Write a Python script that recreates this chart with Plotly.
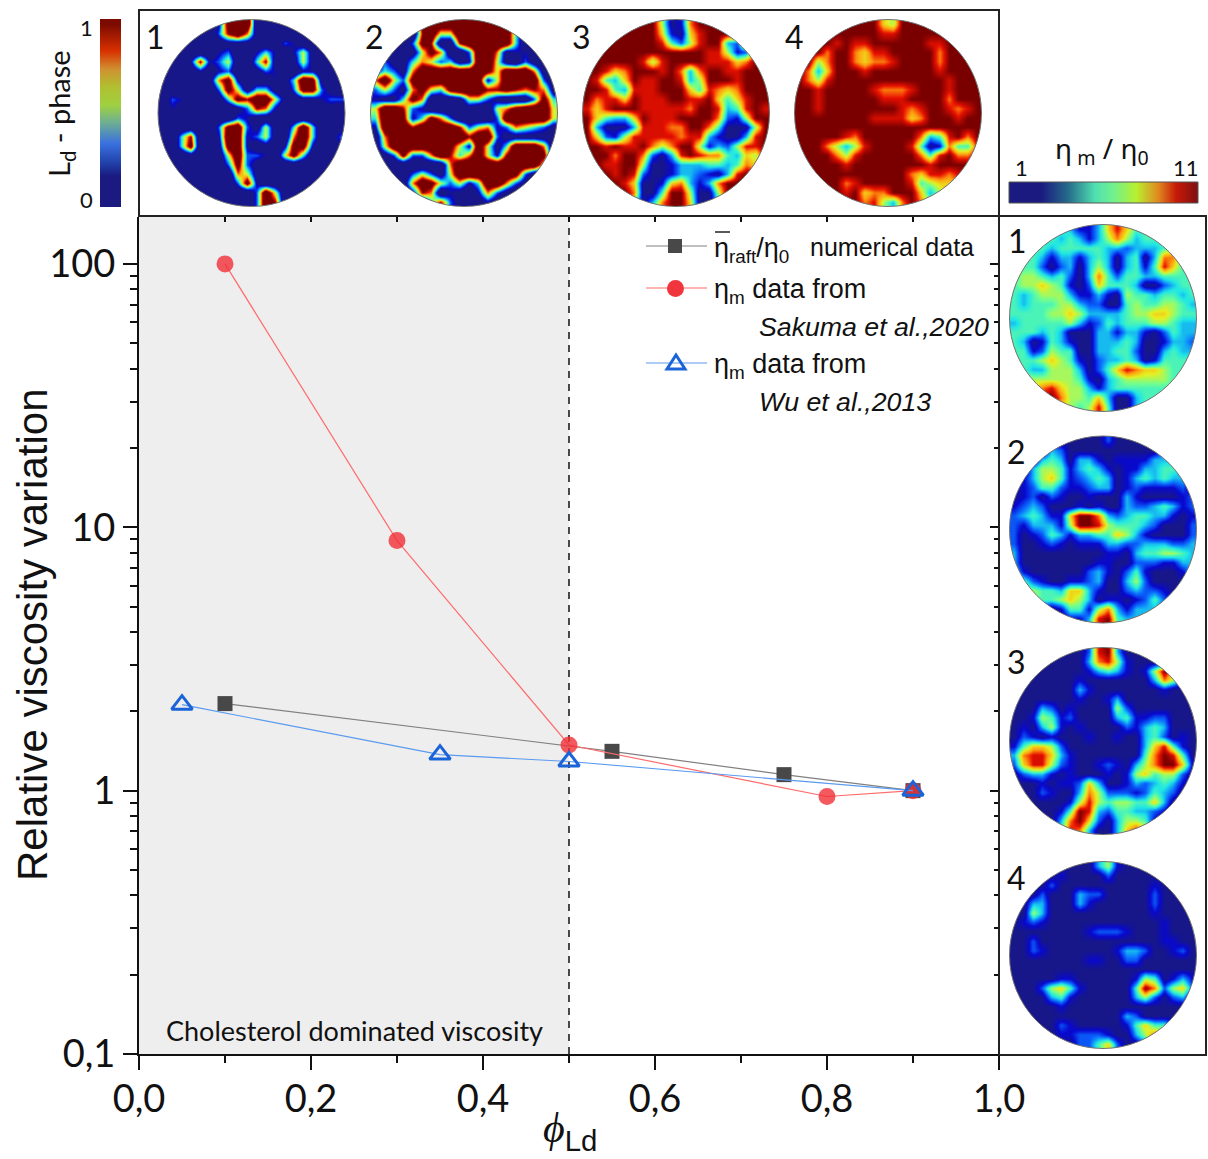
import plotly.graph_objects as go

W, H = 1208, 1159

# ---- line chart data ----
X_TICKS = [0.0, 0.2, 0.4, 0.6, 0.8, 1.0]
X_LABELS = ["0,0", "0,2", "0,4", "0,6", "0,8", "1,0"]
Y_TICKS = [0.1, 1, 10, 100]
Y_LABELS = ["0,1", "1", "10", "100"]
Y_MINOR = [0.2, 0.3, 0.4, 0.5, 0.6, 0.7, 0.8, 0.9, 2, 3, 4, 5, 6, 7, 8, 9,
           20, 30, 40, 50, 60, 70, 80, 90]

RAFT_X = [0.1, 0.55, 0.75, 0.9]
RAFT_Y = [2.14, 1.41, 1.15, 1.0]
SAKUMA_X = [0.1, 0.3, 0.5, 0.8, 0.9]
SAKUMA_Y = [100, 8.9, 1.49, 0.95, 1.0]
WU_X = [0.05, 0.35, 0.5, 0.9]
WU_Y = [2.12, 1.37, 1.29, 1.0]

# ---- field maps: each row is 20 cells, digit 0-9 = low..high level ----
T1 = ["00000028990000000000","00000037961000000000","00000001110003200000","00000023002420251000",
      "00027235004710151000","00002023001320022000","00000168200021498100","00000038514410388310",
      "03200004879951011233","02100000137620000110","00000000320000000002","00000038931510494001",
      "00470029923510694013","00480018920102882002","00010005933205840000","00012103831000000000",
      "00000000651000000000","00000000382000000000","00000000003950000000","00000000003970000000"]
T2 = ["00000889999999880000","00000795599999940000","00003870079999940000","00001586003996122000",
      "03114653412995103100","24316999999985999610","69538999999925999930","35316854899977876761",
      "21148600015531000384","59973200001005689995","49982486300003999995","29997999973562365431",
      "06999999997993111111","05999999852951499960","01383369746952799980","00000000699999999950",
      "00003531599999983000","00006985352499631000","00002760210263100000","00000047310020000000"]
T3 = ["99999999501799999999","99999999610689999999","99999999842589932899","99999999999998851289",
      "99999985899998886799","99867999897379988999","98436988998359998999","99843888999648767999",
      "97886988899889646899","86899988888799834898","96433698889999721599","93000388877997400059",
      "96215888887883100389","99898897579951325889","99979972038987743659","99889950013334434769",
      "99989820013321038999","99998600167313799999","99999700499500599999","99999503799600399999"]
T4 = ["99999999965999999999","99999999988999999999","99998988999999889999","99979976889999979999",
      "99579976778999979999","97369998999999989999","97589999999999998999","99899999877789998999",
      "99899999988899997999","99899999999878998789","99999999888867999899","99999999999999999999",
      "99999879999997348979","99975358999984017448","99997589999997489779","99999899999999899999",
      "99999999999976887899","99999789999984566799","99999896779996357999","99999997853797589999"]
R1 = ["44444431136864444444","44444343135753444444","44443444443323334544","44431331343034037744",
      "44420230353034148644","45543420374244334444","45565410264443002344","43455531131054434434",
      "43444553220045445543","44445565333345566544","34444453124344455433","44434300033133102433",
      "43014310033343001332","44125440033442003433","44456541023343014444","44335553024687665444",
      "55555554103455555444","55678655313444444444","55689755463003444444","55688654584003444444"]
R2 = ["00000000002000000000","00003200000000003000","00034303310111133300","00355413431011334430",
      "01356412343013434330","01244211233012111120","01202100100031000012","12320001010032234312",
      "23431169973234433101","21333159985444320002","20124313344653100002","20012101113322333223",
      "30000000001103445543","30000000011002221133","41000000231024100013","44210011230035200003",
      "45544366310023221013","35544565301101242120","01210144157313332100","00000011389433320000"]
R3 = ["00000000289300000000","00000000378510000000","00000000134310159610","00000001000000037520",
      "00000003100000001000","00000001001300000000","00032010000520000000","00154120000341122000",
      "01035101000021343000","02101000100100342010","14665200000000368410","37886310000000479840",
      "26885210012103579961","02331010001015645520","00010112630013234310","00021003752221243200",
      "00000015854554463000","00000149832443321000","00000379620355410000","00000487300368620000"]
R4 = ["00000000035100000000","00000100002000000000","00002000000000010000","00020003220000020000",
      "00330003100000020000","00530000000000010000","01210000000000001000","00000000122210001000",
      "00200000000000001100","00210000000133200120","00000000110022000000","00000000000000000000",
      "00000110000001540131","00025641000004972562","00003410000003520230","00000100000000000000",
      "00000000000032000000","00000210000014644200","00000112221003575100","00000002246200240000"]

BAR_LEVELS = [0, .05, .1, .15, .2, .25, .3, .35, .4, .45, .5, .55, .6, .65, .7, .75, .8, .85, .9, .95, 1]

JET = [[0, "#17178a"], [.12, "#0808d0"], [.25, "#0a6cff"], [.38, "#1fe6e6"], [.5, "#70ff90"],
       [.62, "#e6f020"], [.75, "#ff9a10"], [.87, "#e81000"], [1, "#7a0000"]]
STEEP = [[0, "#17178a"], [.2, "#17178a"], [.27, "#0808d0"], [.35, "#0a6cff"], [.43, "#1fe6e6"], [.5, "#70ff90"],
         [.57, "#e6f020"], [.65, "#ff9a10"], [.72, "#e81000"], [.8, "#7a0000"], [1, "#7a0000"]]
LD_BAR = [[0, "#1a1a80"], [.15, "#1a1a80"], [.22, "#2040a8"], [.33, "#3a70e0"], [.45, "#70b090"],
          [.55, "#a0d040"], [.65, "#b0c030"], [.75, "#d09030"], [.85, "#d83000"], [1, "#7b0a00"]]
ETA_BAR = [[0, "#1a1a80"], [.15, "#1a1a80"], [.3, "#256a8a"], [.45, "#4fe0b0"], [.55, "#70f090"],
           [.68, "#b8f030"], [.8, "#e08a20"], [.9, "#c81a08"], [1, "#8a1010"]]

# maps: field, centre x, centre y in pixels, number label and its position, colour scale
MAPS = [(T1, 251.5, 113, "1", 155, 37, STEEP), (T2, 464, 113, "2", 374, 37, STEEP),
        (T3, 676, 113, "3", 581, 37, JET), (T4, 888, 113, "4", 794, 37, JET),
        (R1, 1103, 318, "1", 1017, 240, JET), (R2, 1103, 529.5, "2", 1016, 451, JET),
        (R3, 1103, 741, "3", 1016, 662, JET), (R4, 1103, 955, "4", 1016, 877, JET)]
RADIUS = 93.5


def px(x):
    return x / W


def py(y):
    return 1 - y / H


def grid(rows):
    return [[int(c) / 9 for c in r.ljust(20, r[-1])[:20]] for r in rows]


fig = go.Figure()
layout = {}
shapes = []
annotations = []


def note(text, x, y, size, font="Lato", angle=0, color="#111111", xanchor="center"):
    annotations.append(dict(text=text, x=px(x), y=py(y), xref="paper", yref="paper", showarrow=False,
                            font=dict(family=font, size=size, color=color), textangle=angle,
                            xanchor=xanchor, yanchor="middle", borderpad=0, borderwidth=0))


# ---- main axes ----
LEFT, RIGHT, TOP, BOTTOM = 139, 999, 217, 1054
dx = [px(LEFT), px(RIGHT)]
dy = [py(BOTTOM), py(TOP)]
Y_RANGE = [-1, 2.178]
X_RANGE = [0, 1]

shapes.append(dict(type="rect", xref="x", yref="y domain", x0=0, x1=0.5, y0=0, y1=1,
                   fillcolor="#eeeeee", line_width=0, layer="below"))
shapes.append(dict(type="line", xref="x", yref="y domain", x0=0.5, x1=0.5, y0=0, y1=1,
                   line=dict(color="#111111", width=1.5, dash="7px,6px"), layer="below"))

fig.add_trace(go.Scatter(x=RAFT_X, y=RAFT_Y, mode="lines+markers", name="raft numerical data",
                         line=dict(color="#808080", width=1.2),
                         marker=dict(symbol="square", size=15, color="#484848")))
fig.add_trace(go.Scatter(x=SAKUMA_X, y=SAKUMA_Y, mode="lines+markers", name="Sakuma et al.,2020",
                         line=dict(color="#ff6a6a", width=1.2),
                         marker=dict(symbol="circle", size=17, color="rgba(240,48,54,0.8)")))
fig.add_trace(go.Scatter(x=WU_X, y=WU_Y, mode="lines+markers", name="Wu et al.,2013",
                         line=dict(color="#5a9af0", width=1.2),
                         marker=dict(symbol="triangle-up-open", size=18, color="#1b64d8",
                                     line=dict(width=3, color="#1b64d8"))))

layout["xaxis"] = dict(domain=dx, range=X_RANGE, tickvals=X_TICKS, ticktext=X_LABELS, ticks="outside",
                       ticklen=14, tickwidth=2, tickcolor="#111111", showline=True, linewidth=2,
                       linecolor="#111111", showgrid=False, zeroline=False, anchor="y", automargin=False,
                       ticklabelstandoff=-4, tickfont=dict(family="Lato", size=38, color="#111111"),
                       minor=dict(tickvals=[0.1, 0.3, 0.5, 0.7, 0.9], ticks="outside", ticklen=7,
                                  tickwidth=2, tickcolor="#111111", showgrid=False))
layout["yaxis"] = dict(domain=dy, type="log", range=Y_RANGE, tickvals=Y_TICKS, ticktext=Y_LABELS,
                       ticks="outside", ticklen=14, tickwidth=2, tickcolor="#111111", showline=True,
                       linewidth=2, linecolor="#111111", showgrid=False, zeroline=False, anchor="x",
                       automargin=False, tickfont=dict(family="Lato", size=38, color="#111111"),
                       minor=dict(tickvals=Y_MINOR, ticks="outside", ticklen=7, tickwidth=2,
                                  tickcolor="#111111", showgrid=False))
# mirrored inside ticks on the top and right
fig.add_trace(go.Scatter(x=[None], y=[None], xaxis="x2", yaxis="y2", showlegend=False, hoverinfo="skip"))
layout["xaxis2"] = dict(domain=dx, range=X_RANGE, side="top", overlaying="x", anchor="y2", showgrid=False,
                        zeroline=False, showticklabels=False, ticks="inside", ticklen=5, tickwidth=2,
                        tickcolor="#111111", tickvals=[.1, .2, .3, .4, .5, .6, .7, .8, .9], automargin=False)
layout["yaxis2"] = dict(domain=dy, type="log", range=Y_RANGE, side="right", overlaying="y", anchor="x2",
                        showgrid=False, zeroline=False, showticklabels=False, ticks="inside", ticklen=9,
                        tickwidth=2, tickcolor="#111111", tickvals=Y_TICKS, automargin=False,
                        minor=dict(tickvals=Y_MINOR, ticks="inside", ticklen=5, tickwidth=2,
                                   tickcolor="#111111", showgrid=False))

# ---- field maps ----
K = 0.5523
for i, (field, cx, cy, label, lx, ly, scale) in enumerate(MAPS):
    n = i + 3
    fig.add_trace(go.Heatmap(z=grid(field), zmin=0, zmax=1, zsmooth="best", colorscale=scale, showscale=False,
                             hoverinfo="skip", xaxis=f"x{n}", yaxis=f"y{n}"))
    layout[f"xaxis{n}"] = dict(domain=[px(cx - RADIUS), px(cx + RADIUS)], range=[-0.5, 19.5], visible=False,
                               anchor=f"y{n}", automargin=False)
    layout[f"yaxis{n}"] = dict(domain=[py(cy + RADIUS), py(cy - RADIUS)], range=[19.5, -0.5], visible=False,
                               anchor=f"x{n}", automargin=False)
    R = RADIUS
    q = R + 2
    k = K * R

    def pt(a, b):
        return f"{px(cx + a):.5f},{py(cy + b):.5f}"

    path = (f"M{pt(-q, -q)} L{pt(q, -q)} L{pt(q, q)} L{pt(-q, q)} Z "
            f"M{pt(R, 0)} C{pt(R, k)} {pt(k, R)} {pt(0, R)} C{pt(-k, R)} {pt(-R, k)} {pt(-R, 0)} "
            f"C{pt(-R, -k)} {pt(-k, -R)} {pt(0, -R)} C{pt(k, -R)} {pt(R, -k)} {pt(R, 0)} Z")
    shapes.append(dict(type="path", path=path, xref="paper", yref="paper", fillcolor="white",
                       line_width=0, fillrule="evenodd", layer="above"))
    shapes.append(dict(type="circle", xref="paper", yref="paper", x0=px(cx - R), x1=px(cx + R),
                       y0=py(cy + R), y1=py(cy - R), line=dict(color="#707070", width=1), layer="above"))
    note(label, lx, ly, 32)

# ---- colour bars ----
fig.add_trace(go.Heatmap(z=[[v, v] for v in BAR_LEVELS], zmin=0, zmax=1, zsmooth="best", colorscale=LD_BAR,
                         showscale=False, hoverinfo="skip", xaxis="x11", yaxis="y11"))
layout["xaxis11"] = dict(domain=[px(100), px(121)], visible=False, anchor="y11", automargin=False)
layout["yaxis11"] = dict(domain=[py(207), py(19)], visible=False, anchor="x11", automargin=False)
fig.add_trace(go.Heatmap(z=[BAR_LEVELS, BAR_LEVELS], zmin=0, zmax=1, zsmooth="best", colorscale=ETA_BAR,
                         showscale=False, hoverinfo="skip", xaxis="x12", yaxis="y12"))
layout["xaxis12"] = dict(domain=[px(1009), px(1198)], visible=False, anchor="y12", automargin=False)
layout["yaxis12"] = dict(domain=[py(203), py(182)], visible=False, anchor="x12", automargin=False)
shapes.append(dict(type="rect", xref="paper", yref="paper", x0=px(1009), x1=px(1198), y0=py(203), y1=py(182),
                   line=dict(color="#555555", width=1), layer="above"))

# ---- frames ----
for (x0, y0, x1, y1) in [(139, 10, 999, 216), (999, 216, 1206, 1055)]:
    shapes.append(dict(type="rect", xref="paper", yref="paper", x0=px(x0), x1=px(x1), y0=py(y1), y1=py(y0),
                       line=dict(color="#222222", width=2), layer="above"))


# ---- legend keys (layout furniture, placed in the page) ----
def key_line(y, color):
    shapes.append(dict(type="line", xref="paper", yref="paper", x0=px(646), x1=px(707), y0=py(y), y1=py(y),
                       line=dict(color=color, width=1.2), layer="above"))


key_line(246, "#808080")
key_line(288, "#ff6a6a")
key_line(363, "#5a9af0")
shapes.append(dict(type="rect", xref="paper", yref="paper", x0=px(668), x1=px(682), y0=py(253), y1=py(239),
                   fillcolor="#484848", line_width=0, layer="above"))
shapes.append(dict(type="circle", xref="paper", yref="paper", x0=px(667), x1=px(684), y0=py(297), y1=py(280),
                   fillcolor="#f0363c", line_width=0, layer="above"))
shapes.append(dict(type="path", xref="paper", yref="paper",
                   path=f"M{px(676):.5f},{py(355):.5f} L{px(685):.5f},{py(369):.5f} L{px(667):.5f},{py(369):.5f} Z",
                   fillcolor="rgba(255,255,255,0)", line=dict(color="#1b64d8", width=3), layer="above"))
shapes.append(dict(type="line", xref="paper", yref="paper", x0=px(715), x1=px(730), y0=py(232), y1=py(232),
                   line=dict(color="#222222", width=1.5), layer="above"))

# ---- texts ----
note("Relative viscosity variation", 32, 635, 42, font="Liberation Sans", angle=-90)
note('<i>\u03d5</i><sub><span style="font-family:Liberation Sans">Ld</span></sub>', 570, 1131, 42,
     font="Liberation Serif")
note("Cholesterol dominated viscosity", 354, 1030, 27)
note("L<sub>d</sub> - phase", 60, 113, 29, angle=-90)
note("1", 87, 27, 22)
note("0", 87, 199, 22)
note("\u03b7<sub> m</sub> / \u03b7<sub>0</sub>", 1102, 150, 28, font="Noto Sans")
note("1", 1021, 167, 22)
note("11", 1186, 167, 22)

LS = "Liberation Sans"
note("\u03b7<sub>raft</sub>/\u03b7<sub>0</sub>", 714, 250, 27, font=LS, xanchor="left")
note("numerical data", 810, 247, 25, font=LS, xanchor="left")
note("\u03b7<sub>m</sub> data from", 714, 291, 27, font=LS, xanchor="left")
note("<i>Sakuma et al.,2020</i>", 759, 327, 26.7, font=LS, xanchor="left")
note("\u03b7<sub>m</sub> data from", 714, 366, 27, font=LS, xanchor="left")
note("<i>Wu et al.,2013</i>", 759, 402, 26.7, font=LS, xanchor="left")

fig.update_layout(width=W, height=H, margin=dict(l=0, r=0, t=0, b=0), autosize=False, showlegend=False,
                  paper_bgcolor="white", plot_bgcolor="white", shapes=shapes, annotations=annotations,
                  **layout)

fig.write_html("out.html", config={"displayModeBar": False},
               post_script="document.body.style.margin='0';")
